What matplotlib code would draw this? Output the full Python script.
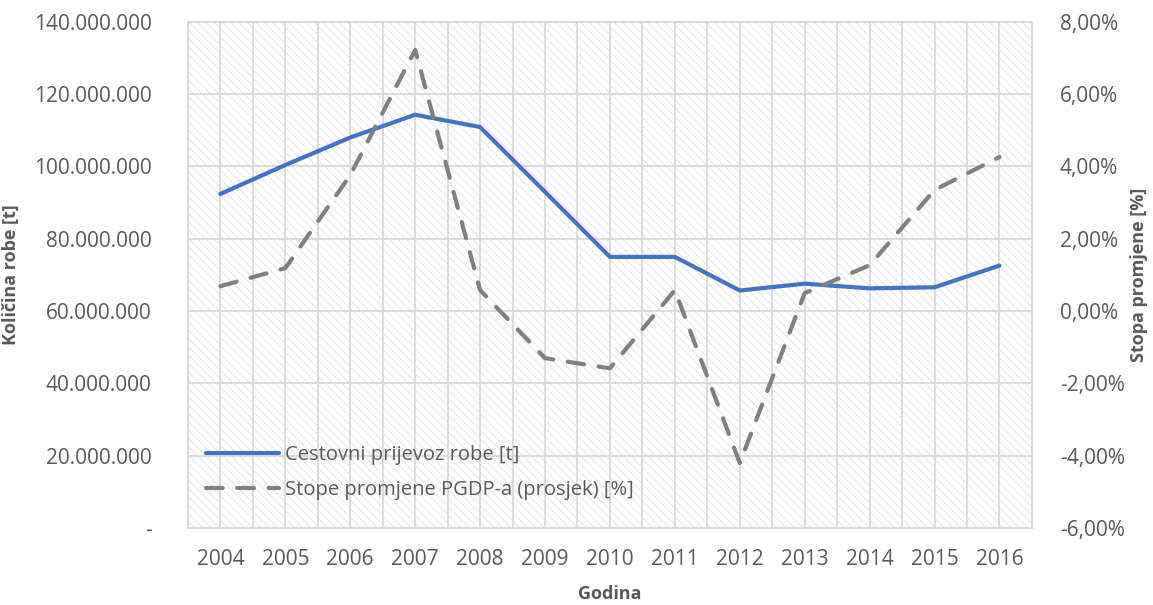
import matplotlib
matplotlib.use("Agg")
import matplotlib.pyplot as plt
from matplotlib.patches import Rectangle
from matplotlib.ticker import FuncFormatter, MultipleLocator

# data
years = ["2004", "2005", "2006", "2007", "2008", "2009", "2010",
         "2011", "2012", "2013", "2014", "2015", "2016"]
cargo_t = [92.4e6, 100.4e6, 108.0e6, 114.3e6, 110.9e6, 93.0e6, 75.0e6,
           75.0e6, 65.7e6, 67.6e6, 66.3e6, 66.6e6, 72.6e6]
gdp_rate = [0.69, 1.19, 3.76, 7.22, 0.58, -1.30, -1.58,
            0.58, -4.20, 0.50, 1.27, 3.35, 4.26]

label_cargo = "Cestovni prijevoz robe [t]"
label_gdp = "Stope promjene PGDP-a (prosjek) [%]"

txt = "#595959"
grid_c = "#d9d9d9"
plt.rcParams["font.family"] = ["Open Sans", "DejaVu Sans"]
plt.rcParams["hatch.linewidth"] = 0.6

fig = plt.figure(figsize=(11.53, 6.05), dpi=100)
ax1 = fig.add_axes([0.163, 0.127, 0.732, 0.837])
ax2 = ax1.twinx()

# hatched background
ax1.add_patch(Rectangle((0, 0), 1, 1, transform=ax1.transAxes, facecolor="white",
                        edgecolor="#e0e0e0", linewidth=0, hatch="\\" * 4, zorder=0))

x = list(range(len(years)))
l1, = ax1.plot(x, cargo_t, color="#4472C4", linewidth=3, solid_capstyle="round",
               label=label_cargo, zorder=3)
l2, = ax2.plot(x, gdp_rate, color="#808080", linewidth=3, dashes=(4, 3.5),
               dash_capstyle="round", label=label_gdp, zorder=3)

ax1.set_xlim(-0.5, len(years) - 0.5)
ax1.set_ylim(0, 140e6)
ax2.set_ylim(-6, 8)
ax1.yaxis.set_major_locator(MultipleLocator(20e6))
ax2.yaxis.set_major_locator(MultipleLocator(2))

def fmt_left(v, pos):
    if v == 0:
        return "-"
    return f"{int(v):,}".replace(",", ".")

def fmt_right(v, pos):
    return f"{v:.2f}%".replace(".", ",")

ax1.yaxis.set_major_formatter(FuncFormatter(fmt_left))
ax2.yaxis.set_major_formatter(FuncFormatter(fmt_right))
ax1.set_xticks(x)
ax1.set_xticklabels(years)
ax1.set_xticks([i + 0.5 for i in range(-1, len(years))], minor=True)

ax1.grid(True, which="both", axis="x", color=grid_c, linewidth=1.3, zorder=1)
ax1.grid(True, which="major", axis="y", color=grid_c, linewidth=1.3, zorder=1)
ax1.set_axisbelow(True)

for a in (ax1, ax2):
    for s in a.spines.values():
        s.set_color(grid_c)
        s.set_linewidth(1.3)
    a.tick_params(which="both", length=0, labelsize=15, labelcolor=txt)
ax1.tick_params(axis="y", pad=26)
ax1.tick_params(axis="x", pad=15)
ax2.tick_params(axis="y", pad=20)

ax1.set_ylabel("Količina robe [t]", fontsize=13, fontweight="bold", color=txt, labelpad=10)
ax2.set_ylabel("Stopa promjene [%]", fontsize=13, fontweight="bold", color=txt, labelpad=4)
ax1.set_xlabel("Godina", fontsize=13, fontweight="bold", color=txt, labelpad=11)

leg = ax1.legend(handles=[l1, l2], loc="lower left", bbox_to_anchor=(0.0, 0.02),
                 frameon=False, fontsize=14.5, labelcolor=txt, handlelength=3.6,
                 handletextpad=0.3, labelspacing=0.75)

fig.savefig("out.png", dpi=100)
